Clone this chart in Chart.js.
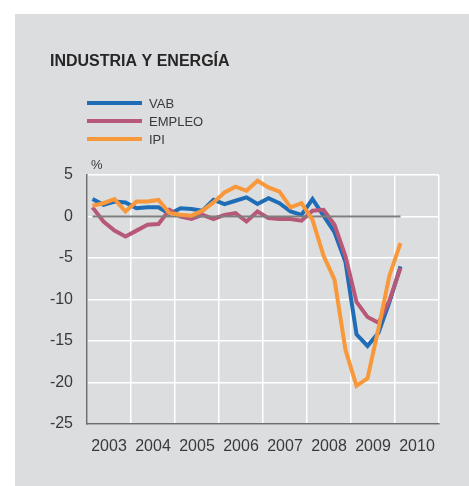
<!DOCTYPE html>
<html lang="es">
<head>
  <meta charset="UTF-8">
  <title>Industria y energía</title>
  <script src="https://cdn.jsdelivr.net/npm/chart.js"></script>
  <style>
    body { margin: 0; background: #fff; }
    #wrap { position: relative; width: 469px; height: 486px; }
  </style>
</head>
<body>

<div id="wrap"><canvas id="industriaChart"></canvas></div>

<script>
  // Tasas de variación interanual (%), datos trimestrales 2003 T1 - 2010 T1
  const years = ["2003", "2004", "2005", "2006", "2007", "2008", "2009", "2010"];
  const vab = [2.1, 1.4, 1.8, 1.7, 1.0, 1.1, 1.1, 0.3, 1.0, 0.9, 0.7, 2.0, 1.5, 1.9, 2.3, 1.5,
               2.2, 1.6, 0.6, 0.2, 2.1, 0.1, -1.9, -5.5, -14.2, -15.6, -14.0, -10.3, -6.0];
  const empleo = [1.1, -0.6, -1.7, -2.4, -1.7, -1.0, -0.9, 0.8, 0.0, -0.3, 0.2, -0.3, 0.2, 0.4, -0.6, 0.6,
                  -0.2, -0.3, -0.3, -0.5, 0.7, 0.8, -1.0, -4.8, -10.3, -12.1, -12.8, -10.1, -6.2];
  const ipi = [1.3, 1.6, 2.1, 0.6, 1.8, 1.8, 2.0, 0.4, 0.2, 0.1, 0.7, 1.7, 2.9, 3.6, 3.1, 4.3,
               3.5, 3.0, 1.1, 1.6, -0.4, -4.7, -7.6, -16.1, -20.4, -19.5, -13.5, -7.1, -3.2];

  const FONT = '"Liberation Sans", Arial, sans-serif';
  const TEXT = "#3a3a3a";

  // each quarter sits in the middle of its slot (4 slots per year)
  const toPoints = arr => arr.map((v, i) => ({ x: i + 0.5, y: v }));

  const panel = {
    id: "panel",
    beforeDraw(chart) {
      const c = chart.ctx;
      c.save();
      c.fillStyle = "#dcdddf";
      c.fillRect(15, 14, chart.width - 15, chart.height - 14);
      c.restore();
    },
    afterDraw(chart) {
      const c = chart.ctx;
      c.save();
      c.fillStyle = "#262626";
      c.font = "bold 16px " + FONT;
      c.textBaseline = "alphabetic";
      c.fillText("INDUSTRIA Y ENERGÍA", 50, 66);

      // legend: line swatch + label
      c.font = "13px " + FONT;
      c.textBaseline = "middle";
      chart.data.datasets.filter(d => !d.isZero).forEach((d, i) => {
        const y = 103 + i * 18;
        c.strokeStyle = d.borderColor;
        c.lineWidth = 4;
        c.beginPath();
        c.moveTo(87, y);
        c.lineTo(142, y);
        c.stroke();
        c.fillStyle = TEXT;
        c.fillText(d.label, 149, y + 1);
      });

      c.fillText("%", 91, 165);
      c.restore();
    }
  };

  new Chart(document.getElementById("industriaChart"), {
    type: "line",
    data: {
      datasets: [
        { label: "VAB", data: toPoints(vab), borderColor: "#1f6db6", borderWidth: 4, order: 3 },
        { label: "EMPLEO", data: toPoints(empleo), borderColor: "#b85878", borderWidth: 4, order: 2 },
        { label: "IPI", data: toPoints(ipi), borderColor: "#f8983a", borderWidth: 4, order: 0 },
        {
          label: "0", isZero: true, order: 1,
          data: [{ x: 0.5, y: 0 }, { x: vab.length - 0.5, y: 0 }],
          borderColor: "#7e7e7e", borderWidth: 2
        }
      ]
    },
    options: {
      responsive: true,
      maintainAspectRatio: false,
      animation: false,
      layout: { padding: { left: 0, top: 175, right: 30, bottom: 0 } },
      elements: {
        point: { radius: 0 },
        line: { tension: 0, borderJoinStyle: "miter", borderCapStyle: "butt" }
      },
      plugins: {
        legend: { display: false },
        tooltip: { enabled: false }
      },
      scales: {
        x: {
          type: "linear",
          min: 0,
          max: years.length * 4,
          afterFit: s => { s.height = 62; },
          grid: {
            color: ctx => (ctx.tick && ctx.tick.value % 4 === 0) ? "#ffffff" : "rgba(0,0,0,0)",
            lineWidth: 1.5,
            drawTicks: false
          },
          border: { color: "#6d6d6d", width: 1.5 },
          ticks: {
            stepSize: 2,
            autoSkip: false,
            maxRotation: 0,
            padding: 13,
            color: TEXT,
            font: { family: FONT, size: 16 },
            callback: v => (v % 4 === 2) ? years[(v - 2) / 4] : ""
          }
        },
        y: {
          min: -25,
          max: 5,
          afterFit: s => { s.width = 87; },
          grid: { color: "#ffffff", lineWidth: 1.5, drawTicks: false },
          border: { color: "#6d6d6d", width: 1.5 },
          ticks: {
            stepSize: 5,
            padding: 14,
            color: TEXT,
            font: { family: FONT, size: 16 }
          }
        }
      }
    },
    plugins: [panel]
  });
</script>

</body>
</html>
